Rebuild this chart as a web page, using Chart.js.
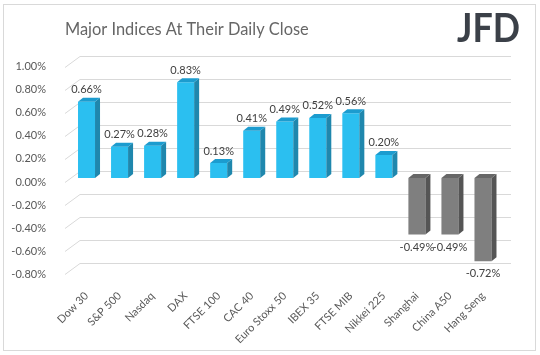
<!DOCTYPE html>
<html>
<head>
<meta charset="utf-8">
<script src="https://cdn.jsdelivr.net/npm/chart.js@4.4.1/dist/chart.umd.min.js"></script>
<style>
  html, body { margin: 0; padding: 0; background: #ffffff; }
  #wrap { position: relative; width: 540px; height: 355px; }
  #frame { position: absolute; left: 3px; top: 4px; width: 533px; height: 347px; box-sizing: border-box; border: 1px solid #d9d9d9; pointer-events: none; }
  canvas { position: absolute; left: 0; top: 0; }
</style>
</head>
<body>
<div id="wrap">
  <canvas id="c" width="540" height="355"></canvas>
  <div id="frame"></div>
</div>
<script>
// ---- data ----
const titleText = 'Major Indices At Their Daily Close';
const logoText = 'JFD';
const categories = ['Dow 30', 'S&P 500', 'Nasdaq', 'DAX', 'FTSE 100', 'CAC 40', 'Euro Stoxx 50', 'IBEX 35', 'FTSE MIB', 'Nikkei 225', 'Shanghai', 'China A50', 'Hang Seng'];
const changes = [0.66, 0.27, 0.28, 0.83, 0.13, 0.41, 0.49, 0.52, 0.56, 0.20, -0.49, -0.49, -0.72];
const yMin = -0.8;
const yMax = 1.0;
const yStep = 0.2;

// ---- styles ----
const FONT = 'Lato';
const posFront = '#2bbff0', posSide = '#1f87ad', posTop = '#1c9ccf';
const negFront = '#7f7f7f', negSide = '#555555', negTop = '#676767';
const gridColor = '#d9d9d9';
const DEPTH_X = 5, DEPTH_Y = 4;          // bar 3D depth
const WALL_X0 = 65, WALL_X1 = 80, WALL_X2 = 511;  // wall gridline x positions
const WALL_DY = -7, FRONT_DY = 4.5;

function fmt(v) { return (Math.abs(v) < 1e-9 ? 0 : v).toFixed(2) + '%'; }

const wallGrid = {
  id: 'wallGrid',
  beforeDatasetsDraw(chart) {
    const y = chart.scales.y;
    const ctx = chart.ctx;
    ctx.save();
    ctx.strokeStyle = gridColor;
    ctx.lineWidth = 1;
    y.ticks.forEach(t => {
      const p = Math.round(y.getPixelForValue(t.value));
      ctx.beginPath();
      ctx.moveTo(WALL_X0, p + FRONT_DY);
      ctx.lineTo(WALL_X1, p + WALL_DY + 0.5);
      ctx.lineTo(WALL_X2, p + WALL_DY + 0.5);
      ctx.stroke();
    });
    ctx.restore();
  }
};

const bars3d = {
  id: 'bars3d',
  afterDatasetsDraw(chart) {
    const ctx = chart.ctx;
    const meta = chart.getDatasetMeta(0);
    const data = chart.data.datasets[0].data;
    ctx.save();
    meta.data.forEach((bar, i) => {
      const v = data[i];
      const neg = v < 0;
      const half = bar.width / 2;
      const l = bar.x - half, r = bar.x + half;
      const top = Math.min(bar.y, bar.base), bot = Math.max(bar.y, bar.base);
      ctx.fillStyle = neg ? negSide : posSide;
      ctx.beginPath();
      ctx.moveTo(r, top); ctx.lineTo(r + DEPTH_X, top - DEPTH_Y);
      ctx.lineTo(r + DEPTH_X, bot - DEPTH_Y); ctx.lineTo(r, bot);
      ctx.closePath(); ctx.fill();
      ctx.fillStyle = neg ? negTop : posTop;
      ctx.beginPath();
      ctx.moveTo(l, top); ctx.lineTo(l + DEPTH_X, top - DEPTH_Y);
      ctx.lineTo(r + DEPTH_X, top - DEPTH_Y); ctx.lineTo(r, top);
      ctx.closePath(); ctx.fill();
      ctx.fillStyle = '#404040';
      ctx.font = '11px ' + FONT;
      ctx.textAlign = 'center';
      ctx.textBaseline = 'middle';
      ctx.fillText(fmt(v), bar.x, neg ? bot + 12.5 : top - 12);
    });
    ctx.restore();
  }
};

const headerText = {
  id: 'headerText',
  afterDraw(chart) {
    const ctx = chart.ctx;
    ctx.save();
    ctx.fillStyle = '#666666';
    ctx.font = '16.4px ' + FONT;
    ctx.textAlign = 'left';
    ctx.textBaseline = 'alphabetic';
    ctx.fillText(titleText, 65, 34.5);
    ctx.fillStyle = '#3b4048';
    ctx.font = '700 40px ' + FONT;
    const w = ctx.measureText(logoText).width;
    ctx.translate(457, 42);
    ctx.scale(63 / w, 1);
    ctx.fillText(logoText, 0, 0);
    ctx.restore();
  }
};

new Chart(document.getElementById('c'), {
  type: 'bar',
  data: {
    labels: categories,
    datasets: [{
      data: changes,
      backgroundColor: ctx => (ctx.raw < 0 ? negFront : posFront),
      borderWidth: 0,
      barPercentage: 0.515,
      categoryPercentage: 1.0
    }]
  },
  options: {
    responsive: false,
    animation: false,
    events: [],
    layout: { padding: { left: 0, right: 40.5, top: 62.5, bottom: 0 } },
    plugins: { legend: { display: false }, tooltip: { enabled: false }, title: { display: false } },
    scales: {
      x: {
        grid: { display: false },
        border: { display: false },
        ticks: {
          autoSkip: false, minRotation: 45, maxRotation: 45, padding: 11,
          color: '#595959', font: { family: FONT, size: 11 }
        },
        afterFit: s => { s.height = 84.6; }
      },
      y: {
        min: yMin, max: yMax,
        grid: { display: false },
        border: { display: false },
        ticks: {
          stepSize: yStep, padding: 16, labelOffset: 4,
          color: '#595959', font: { family: FONT, size: 11 },
          callback: v => fmt(v)
        },
        afterFit: s => { s.width = 70; }
      }
    }
  },
  plugins: [wallGrid, bars3d, headerText]
});
</script>
</body>
</html>
